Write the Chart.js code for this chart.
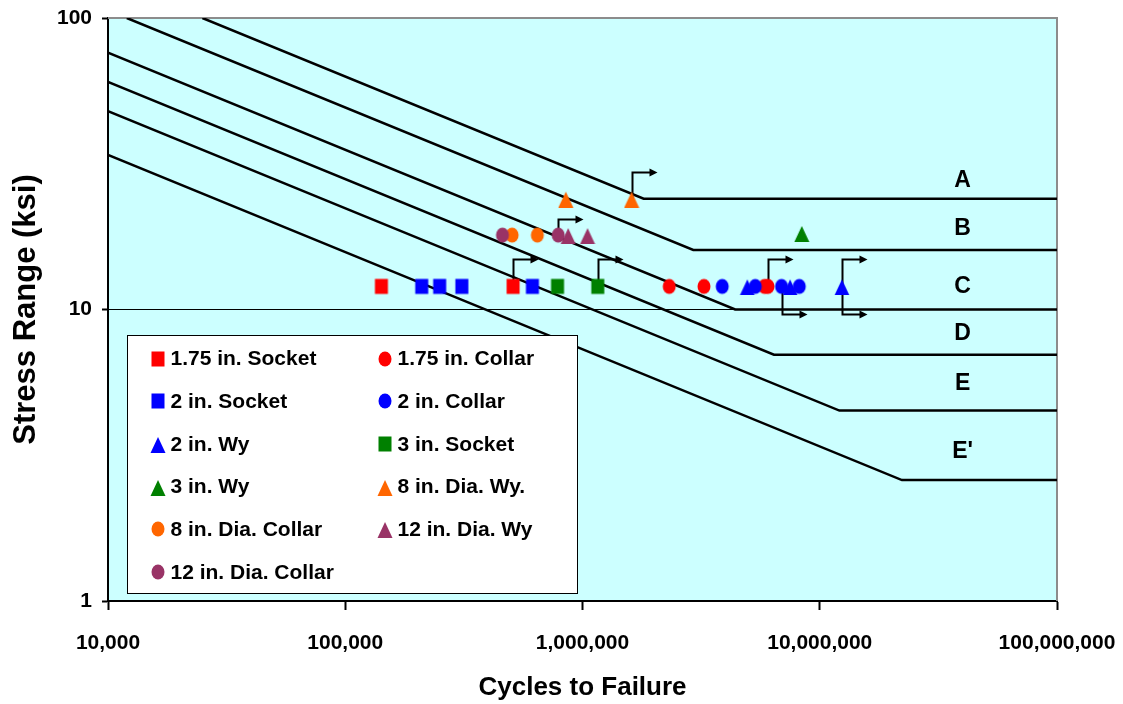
<!DOCTYPE html>
<html>
<head>
<meta charset="utf-8">
<title>Stress Range vs Cycles to Failure</title>
<script src="https://cdn.jsdelivr.net/npm/chart.js@4.4.1/dist/chart.umd.min.js"></script>
<style>
  html, body { margin: 0; padding: 0; background: #ffffff; }
  #wrap { width: 1123px; height: 704px; position: relative; }
</style>
</head>
<body>
<div id="wrap"><canvas id="chart" width="1123" height="704"></canvas></div>
<script>
// ---- Axis ticks ----
const X_TICKS = [1e4, 1e5, 1e6, 1e7, 1e8];
const Y_TICKS = [1, 10, 100];

// ---- AASHTO detail category S-N curves: vertices [cycles, ksi] ----
const CATEGORY_NAMES = ['A', 'B', 'C', 'D', 'E', "E'"];
const CURVE_A  = [[25000, 100], [1.81e6, 24], [1e8, 24]];
const CURVE_B  = [[12000, 100], [2.93e6, 16], [1e8, 16]];
const CURVE_C  = [[1e4, 76.1], [4.4e6, 10], [1e8, 10]];
const CURVE_D  = [[1e4, 60.4], [6.41e6, 7], [1e8, 7]];
const CURVE_E  = [[1e4, 47.9], [1.21e7, 4.5], [1e8, 4.5]];
const CURVE_E2 = [[1e4, 33.9], [2.22e7, 2.6], [1e8, 2.6]];
const CATEGORY_LABEL_N = 4e7;
const CATEGORY_LABEL_S = [27.6, 19.0, 11.95, 8.25, 5.55, 3.25];

// ---- Test results [cycles, ksi] ----
const SOCKET_175   = [[1.42e5, 12], [5.1e5, 12]];
const COLLAR_175   = [[2.32e6, 12], [3.25e6, 12], [5.85e6, 12], [6.05e6, 12]];
const SOCKET_2     = [[2.1e5, 12], [2.5e5, 12], [3.1e5, 12], [6.15e5, 12]];
const COLLAR_2     = [[3.88e6, 12], [5.35e6, 12], [6.9e6, 12], [8.2e6, 12]];
const WY_2         = [[4.95e6, 12], [7.5e6, 12], [1.24e7, 12]];
const SOCKET_3     = [[7.85e5, 12], [1.16e6, 12]];
const WY_3         = [[8.4e6, 18.3]];
const DIA8_WY      = [[8.5e5, 24], [1.61e6, 24]];
const DIA8_COLLAR  = [[5.05e5, 18], [6.45e5, 18]];
const DIA12_WY     = [[8.7e5, 18], [1.05e6, 18]];
const DIA12_COLLAR = [[4.6e5, 18], [7.9e5, 18]];

// Run-outs (tests stopped without failure)
const RUNOUT_UP         = [[5.1e5, 12], [1.16e6, 12], [6.05e6, 12], [1.24e7, 12], [1.61e6, 24]];
const RUNOUT_UP_COMPACT = [[7.9e5, 18]];
const RUNOUT_DOWN       = [[6.9e6, 12], [1.24e7, 12]];

// ---- Styling ----
const FONT = '"Liberation Sans", Arial, Helvetica, sans-serif';
const RED = '#FF0000', BLUE = '#0000FF', GREEN = '#008000', ORANGE = '#FF6600', PLUM = '#993366';

function marker(shape, color) {
  const c = document.createElement('canvas');
  c.width = 16; c.height = 18;
  const g = c.getContext('2d');
  g.fillStyle = color;
  if (shape === 'square') {
    g.fillRect(1.5, 1.5, 13, 15);
  } else if (shape === 'circle') {
    g.beginPath(); g.ellipse(8, 9, 6.5, 7.5, 0, 0, Math.PI * 2); g.fill();
  } else {
    g.beginPath(); g.moveTo(8, 2); g.lineTo(15.5, 18); g.lineTo(0.5, 18); g.closePath(); g.fill();
  }
  return c;
}

// legend order (two columns, row by row) with stacking rank
const SERIES = [
  { label: '1.75 in. Socket',    data: SOCKET_175,   style: marker('square', RED),      rank: 0 },
  { label: '1.75 in. Collar',    data: COLLAR_175,   style: marker('circle', RED),      rank: 6 },
  { label: '2 in. Socket',       data: SOCKET_2,     style: marker('square', BLUE),     rank: 1 },
  { label: '2 in. Collar',       data: COLLAR_2,     style: marker('circle', BLUE),     rank: 7 },
  { label: '2 in. Wy',           data: WY_2,         style: marker('triangle', BLUE),   rank: 2 },
  { label: '3 in. Socket',       data: SOCKET_3,     style: marker('square', GREEN),    rank: 8 },
  { label: '3 in. Wy',           data: WY_3,         style: marker('triangle', GREEN),  rank: 3 },
  { label: '8 in. Dia. Wy.',     data: DIA8_WY,      style: marker('triangle', ORANGE), rank: 9 },
  { label: '8 in. Dia. Collar',  data: DIA8_COLLAR,  style: marker('circle', ORANGE),   rank: 4 },
  { label: '12 in. Dia. Wy',     data: DIA12_WY,     style: marker('triangle', PLUM),   rank: 10 },
  { label: '12 in. Dia. Collar', data: DIA12_COLLAR, style: marker('circle', PLUM),     rank: 5 }
];

const toXY = arr => arr.map(([x, y]) => ({ x, y }));

const curveSets = [CURVE_A, CURVE_B, CURVE_C, CURVE_D, CURVE_E, CURVE_E2].map((pts, i) => ({
  label: 'Category ' + CATEGORY_NAMES[i],
  data: toXY(pts),
  showLine: true,
  borderColor: '#000',
  borderWidth: 2.5,
  pointRadius: 0,
  order: 100
}));

const testSets = SERIES.map(s => ({
  label: s.label,
  data: toXY(s.data),
  pointStyle: s.style,
  pointRadius: 8,
  showLine: false,
  order: 20 - s.rank
}));

// Plot-area fill and frame
const plotFrame = {
  id: 'plotFrame',
  beforeDraw(chart) {
    const { ctx, chartArea: a } = chart;
    ctx.save();
    ctx.fillStyle = '#CCFFFF';
    ctx.fillRect(a.left, a.top, a.right - a.left, a.bottom - a.top);
    ctx.restore();
  },
  beforeDatasetsDraw(chart) {
    const { ctx, chartArea: a } = chart;
    ctx.save();
    ctx.strokeStyle = '#8C8C8C';
    ctx.lineWidth = 2;
    ctx.beginPath();
    ctx.moveTo(a.left, a.top);
    ctx.lineTo(a.right, a.top);
    ctx.lineTo(a.right, a.bottom);
    ctx.stroke();
    ctx.restore();
  }
};

// Run-out arrows anchored at data points
const runoutArrows = {
  id: 'runoutArrows',
  beforeDatasetsDraw(chart) {
    const { ctx, scales: { x, y } } = chart;
    const draw = (n, s, dir, rise) => {
      const px = Math.round(x.getPixelForValue(n)) + 0.5;
      const py = y.getPixelForValue(s);
      const ty = Math.round(dir === 'up' ? py - rise : py + rise) + 0.5;
      const run = 25;
      ctx.beginPath();
      ctx.moveTo(px, py);
      ctx.lineTo(px, ty);
      ctx.lineTo(px + run - 6, ty);
      ctx.stroke();
      ctx.beginPath();
      ctx.moveTo(px + run, ty);
      ctx.lineTo(px + run - 8, ty - 4);
      ctx.lineTo(px + run - 8, ty + 4);
      ctx.closePath();
      ctx.fill();
    };
    ctx.save();
    ctx.strokeStyle = '#000';
    ctx.fillStyle = '#000';
    ctx.lineWidth = 2;
    RUNOUT_UP.forEach(([n, s]) => draw(n, s, 'up', 27));
    RUNOUT_UP_COMPACT.forEach(([n, s]) => draw(n, s, 'up', 16));
    RUNOUT_DOWN.forEach(([n, s]) => draw(n, s, 'down', 28));
    ctx.restore();
  }
};

// Category letters and boxed legend
const annotations = {
  id: 'annotations',
  afterDatasetsDraw(chart) {
    const { ctx, chartArea: a, scales: { x, y } } = chart;
    ctx.save();
    ctx.fillStyle = '#000';
    ctx.font = 'bold 23px ' + FONT;
    ctx.textAlign = 'center';
    ctx.textBaseline = 'middle';
    const lx = x.getPixelForValue(CATEGORY_LABEL_N);
    CATEGORY_NAMES.forEach((name, i) => {
      ctx.fillText(name, lx, y.getPixelForValue(CATEGORY_LABEL_S[i]));
    });

    // legend box
    const bl = a.left + 19.5, bt = a.top + 317.5, bw = 450, bh = 258;
    ctx.fillStyle = '#FFFFFF';
    ctx.fillRect(bl, bt, bw, bh);
    ctx.strokeStyle = '#000';
    ctx.lineWidth = 1;
    ctx.strokeRect(bl, bt, bw, bh);

    ctx.font = 'bold 21px ' + FONT;
    ctx.textAlign = 'left';
    ctx.fillStyle = '#000';
    SERIES.forEach((s, i) => {
      const col = i % 2, row = Math.floor(i / 2);
      const mx = bl + 30 + col * 227;
      const my = bt + 23 + row * 42.7;
      ctx.drawImage(s.style, Math.round(mx - s.style.width / 2), Math.round(my - s.style.height / 2));
      ctx.fillText(s.label, mx + 13, my + 1);
    });
    ctx.restore();
  }
};

Chart.defaults.font.family = FONT;
Chart.defaults.color = '#000';

new Chart(document.getElementById('chart'), {
  type: 'scatter',
  data: { datasets: [...testSets, ...curveSets] },
  options: {
    responsive: false,
    animation: false,
    events: [],
    layout: { padding: { top: 18, right: 66, left: 0, bottom: 0 } },
    plugins: { legend: { display: false }, tooltip: { enabled: false } },
    scales: {
      x: {
        type: 'logarithmic',
        min: 1e4,
        max: 1e8,
        afterBuildTicks: scale => { scale.ticks = X_TICKS.map(v => ({ value: v })); },
        afterFit: scale => { scale.height = 103; scale.paddingLeft = 0; scale.paddingRight = 0; },
        border: { color: '#000', width: 2 },
        grid: { drawOnChartArea: false, tickLength: 9, tickColor: '#000', tickWidth: 2 },
        ticks: {
          font: { size: 21, weight: 'bold' },
          padding: 21,
          maxRotation: 0,
          autoSkip: false,
          callback: v => Number(v).toLocaleString('en-US')
        },
        title: {
          display: true,
          text: 'Cycles to Failure',
          font: { size: 26, weight: 'bold', lineHeight: 1.2 },
          padding: { top: 0, bottom: 1 }
        }
      },
      y: {
        type: 'logarithmic',
        min: 1,
        max: 100,
        afterBuildTicks: scale => { scale.ticks = Y_TICKS.map(v => ({ value: v })); },
        afterFit: scale => { scale.width = 108; scale.paddingTop = 0; scale.paddingBottom = 0; },
        border: { color: '#000', width: 2 },
        grid: {
          color: c => (c.tick && c.tick.value === 10) ? '#000000' : 'rgba(0,0,0,0)',
          lineWidth: 1,
          tickLength: 6,
          tickColor: '#000',
          tickWidth: 2
        },
        ticks: {
          font: { size: 21, weight: 'bold' },
          padding: 10,
          autoSkip: false,
          callback: v => String(v)
        },
        title: {
          display: true,
          text: 'Stress Range (ksi)',
          font: { size: 31, weight: 'bold', lineHeight: 1.2 },
          padding: { top: 8, bottom: 0 }
        }
      }
    }
  },
  plugins: [plotFrame, runoutArrows, annotations]
});
</script>
</body>
</html>
